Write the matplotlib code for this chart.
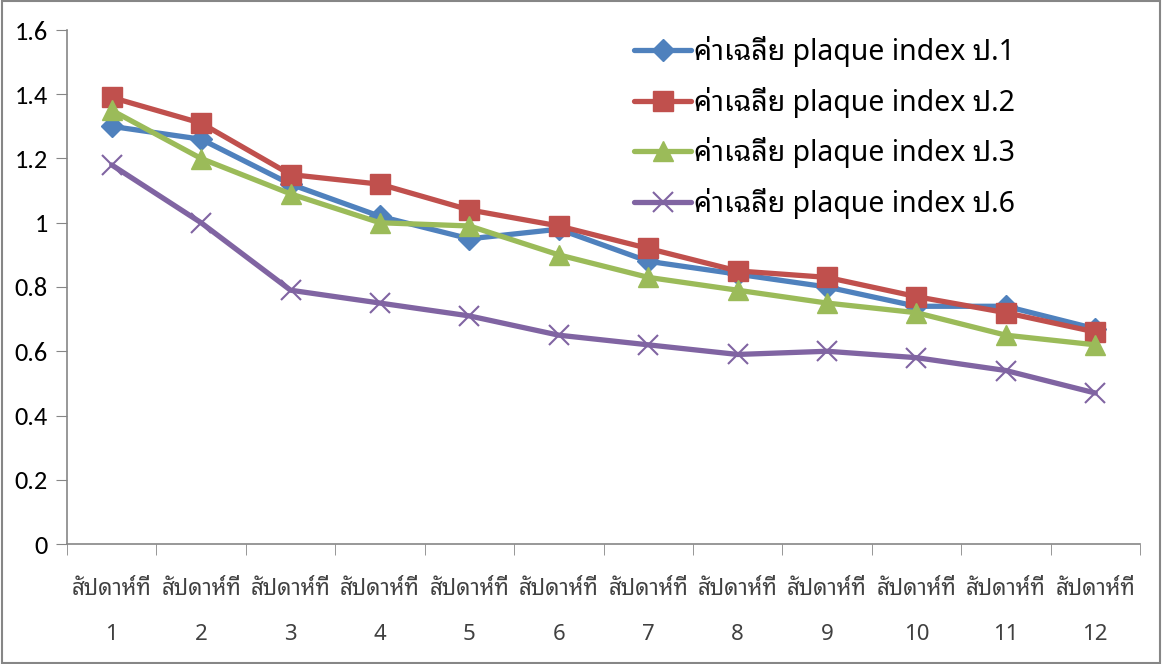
import numpy as np
import matplotlib
matplotlib.use("Agg")
import matplotlib.pyplot as plt
from matplotlib.patches import Rectangle

weeks = ["1", "2", "3", "4", "5", "6", "7", "8", "9", "10", "11", "12"]
week_word = "สัปดาห์ที่"
series_names = ["ค่าเฉลี่ย plaque index ป.1", "ค่าเฉลี่ย plaque index ป.2",
                "ค่าเฉลี่ย plaque index ป.3", "ค่าเฉลี่ย plaque index ป.6"]
p1 = [1.30, 1.26, 1.12, 1.02, 0.95, 0.98, 0.88, 0.84, 0.80, 0.74, 0.74, 0.67]
p2 = [1.39, 1.31, 1.15, 1.12, 1.04, 0.99, 0.92, 0.85, 0.83, 0.77, 0.72, 0.66]
p3 = [1.35, 1.20, 1.09, 1.00, 0.99, 0.90, 0.83, 0.79, 0.75, 0.72, 0.65, 0.62]
p6 = [1.18, 1.00, 0.79, 0.75, 0.71, 0.65, 0.62, 0.59, 0.60, 0.58, 0.54, 0.47]

thai_font = ["Noto Sans Thai Looped", "Noto Sans", "DejaVu Sans"]
legend_font = ["Noto Sans", "Noto Sans Thai Looped", "DejaVu Sans"]
plt.rcParams["font.family"] = thai_font

fig = plt.figure(figsize=(11.62, 6.64), dpi=100)
ax = fig.add_axes([67 / 1162, 1 - 544 / 664, (1140 - 67) / 1162, (544 - 30) / 664])

colors = ["#4F81BD", "#C0504D", "#9BBB59", "#8064A2"]
markers = ["D", "s", "^", "x"]
sizes = [11, 14, 14, 15]
x = np.arange(len(weeks))
for vals, name, c, m, s in zip([p1, p2, p3, p6], series_names, colors, markers, sizes):
    ax.plot(x, vals, color=c, lw=3.8, marker=m, ms=s, mew=1.5 if m == "x" else 1,
            label=name, solid_capstyle="round")

ax.set_ylim(0, 1.6)
ax.set_yticks(np.arange(0, 1.61, 0.2))
ax.set_yticklabels(["0", "0.2", "0.4", "0.6", "0.8", "1", "1.2", "1.4", "1.6"],
                   fontsize=19, family=["Carlito", "DejaVu Sans"])
ax.set_xlim(-0.5, len(weeks) - 0.5)
ax.set_xticks(x)
ax.set_xticklabels([week_word + "\n" + w for w in weeks], fontsize=16, color="#404040",
                   linespacing=2.5)
ax.set_xticks(np.arange(-0.5, len(weeks)), minor=True)
ax.tick_params(axis="x", which="major", length=0, pad=25)
ax.tick_params(axis="x", which="minor", length=8, color="#868686")
ax.tick_params(axis="y", length=8, color="#868686", pad=6)
for sp in ["top", "right"]:
    ax.spines[sp].set_visible(False)
for sp in ["left", "bottom"]:
    ax.spines[sp].set_color("#868686")
    ax.spines[sp].set_linewidth(1.2)

ax.legend(loc="upper left", bbox_to_anchor=(0.505, 1.039), frameon=False,
          prop={"family": legend_font, "size": 20.5},
          handlelength=2.0, handletextpad=0.1, labelspacing=0.7)

fig.patches.append(Rectangle((0.002, 0.002), 0.996, 0.996, transform=fig.transFigure,
                             fill=False, edgecolor="#868686", lw=1.5))
fig.savefig("out.png", dpi=100)
